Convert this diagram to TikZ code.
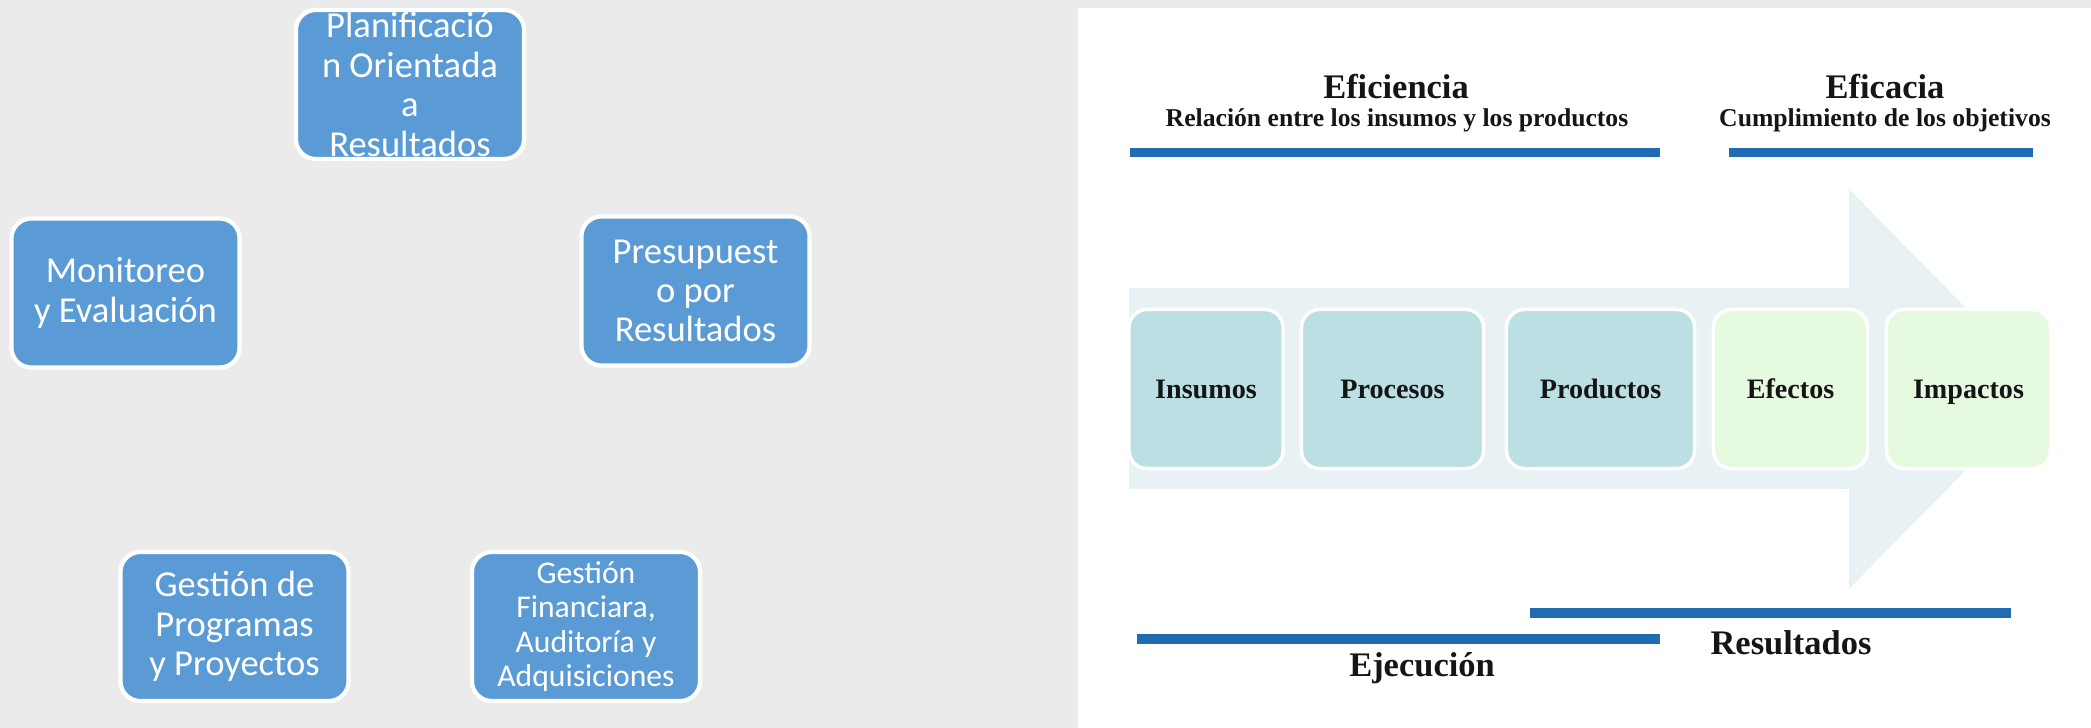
\documentclass[tikz,border=0pt]{standalone}
\usepackage{fontspec}
\setmainfont{Liberation Serif}
\newfontfamily\calibri{Carlito}

\definecolor{smartblue}{HTML}{5B9BD5}
\definecolor{panelgray}{HTML}{EBEBEB}
\definecolor{barblue}{HTML}{1F6CB0}
\definecolor{arrowtint}{HTML}{E8F1F3}
\definecolor{tealbox}{HTML}{BCDFE3}
\definecolor{greenbox}{HTML}{E6FADF}
\definecolor{inkdark}{HTML}{151515}

\tikzset{
  bluebox/.style={draw=white, line width=1.2pt, fill=smartblue, rounded corners=0.2cm,
    minimum width=2.28cm, minimum height=1.49cm, align=center,
    inner sep=0pt, text=white, font=\calibri\fontsize{10.4}{11.2}\selectfont},
  stagebox/.style={draw=white, line width=1pt, rounded corners=0.18cm, minimum height=1.59cm,
    inner sep=0pt, text height=1.6ex, text depth=0.4ex, text=inkdark,
    font=\bfseries\fontsize{8}{9.6}\selectfont},
  bigtitle/.style={text=inkdark, inner sep=0pt, font=\bfseries\fontsize{9.8}{11.8}\selectfont},
  subtitle/.style={text=inkdark, inner sep=0pt, font=\bfseries\fontsize{7.3}{8.8}\selectfont},
  bar/.style={draw=barblue, line width=0.09cm}
}

\begin{document}
\begin{tikzpicture}[x=0.01cm, y=-0.01cm]
\useasboundingbox (0,0) rectangle (2091,728);
\fill[panelgray] (0,0) rectangle (2091,728);
\fill[white] (1078,8) rectangle (2091,728);

% left: SmartArt boxes
\node[bluebox] (plan) at (410,84.5) {Planificació\\n Orientada\\a\\Resultados};
\node[bluebox] (monitor) at (125.5,293) {Monitoreo\\y Evaluación};
\node[bluebox] (presup) at (695.5,291) {Presupuest\\o por\\Resultados};
\node[bluebox] (gestprog) at (234.5,626.5) {Gestión de\\Programas\\y Proyectos};
\node[bluebox, font=\calibri\fontsize{9}{9.8}\selectfont] (gestfin) at (586,626.5) {Gestión\\Financiara,\\Auditoría y\\Adquisiciones};

% right: chain of results
\fill[arrowtint] (1129,288) -- (1849,288) -- (1849,189) -- (2045,389) -- (1849,589) -- (1849,489) -- (1129,489) -- cycle;

\node[stagebox, fill=tealbox, minimum width=1.54cm] (insumos) at (1206,389) {Insumos};
\node[stagebox, fill=tealbox, minimum width=1.82cm] (procesos) at (1392.5,389) {Procesos};
\node[stagebox, fill=tealbox, minimum width=1.88cm] (productos) at (1600.5,389) {Productos};
\node[stagebox, fill=greenbox, minimum width=1.54cm] (efectos) at (1790.5,389) {Efectos};
\node[stagebox, fill=greenbox, minimum width=1.64cm] (impactos) at (1968.5,389) {Impactos};

\node[bigtitle] (eficiencia) at (1396,87) {Eficiencia};
\node[subtitle] (eficiencia-sub) at (1397,120) {Relación entre los insumos y los productos};
\node[bigtitle] (eficacia) at (1885,87) {Eficacia};
\node[subtitle] (eficacia-sub) at (1885,120) {Cumplimiento de los objetivos};
\draw[bar] (1130,153) -- (1660,153);
\draw[bar] (1729,153) -- (2033,153);

\draw[bar] (1530,613) -- (2011,613);
\draw[bar] (1137,639) -- (1660,639);
\node[bigtitle] (resultados) at (1791,643) {Resultados};
\node[bigtitle] (ejecucion) at (1422,668) {Ejecución};
\end{tikzpicture}
\end{document}
